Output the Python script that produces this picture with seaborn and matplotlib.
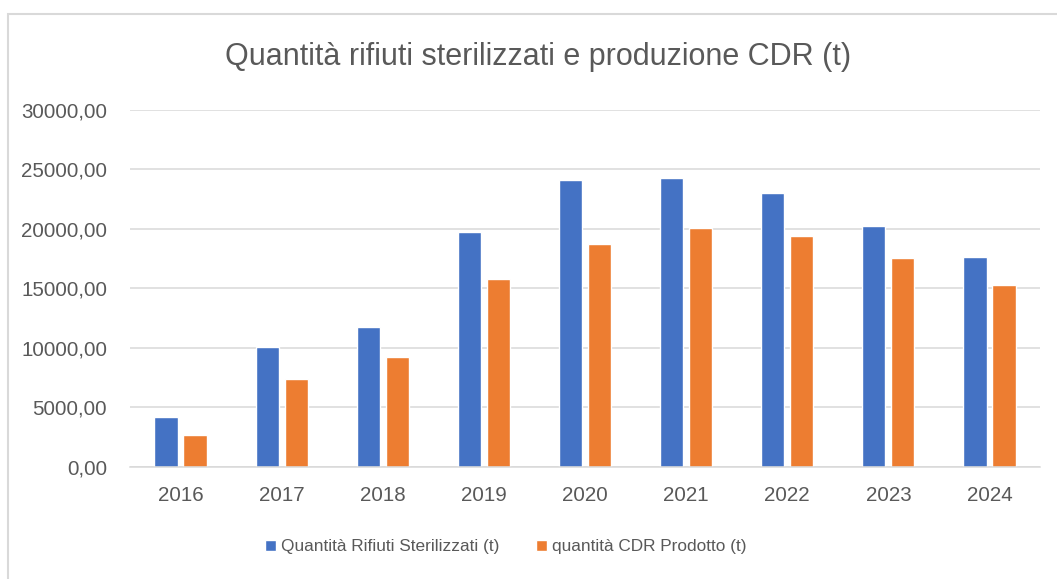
import matplotlib
matplotlib.use("Agg")
import matplotlib.pyplot as plt
import seaborn as sns
import pandas as pd
from matplotlib.patches import Rectangle
from matplotlib.ticker import FuncFormatter

years = ["2016", "2017", "2018", "2019", "2020", "2021", "2022", "2023", "2024"]
rifiuti = [4150, 10090, 11750, 19770, 24090, 24310, 23020, 20220, 17660]
cdr = [2670, 7400, 9250, 15760, 18760, 20080, 19380, 17530, 15260]
series_names = ["Quantità Rifiuti Sterilizzati (t)", "quantità CDR Prodotto (t)"]
colors = ["#4472C4", "#ED7D31"]
title = "Quantità rifiuti sterilizzati e produzione CDR (t)"

df = pd.DataFrame({
    "Anno": years * 2,
    "Valore": rifiuti + cdr,
    "Serie": [series_names[0]] * len(years) + [series_names[1]] * len(years),
})

sns.set_theme(style="white")
plt.rcParams["font.family"] = ["Liberation Sans", "DejaVu Sans"]
text_col = "#595959"
grid_col = "#D9D9D9"

fig = plt.figure(figsize=(10.57, 5.79), dpi=100)
fig.patch.set_facecolor("white")
ax = fig.add_axes([130 / 1057, 1 - 466.7 / 579, (1040 - 130) / 1057, (466.7 - 110) / 579])

sns.barplot(data=df, x="Anno", y="Valore", hue="Serie", palette=colors,
            width=0.574, gap=0.2, ax=ax, saturation=1, legend=True)

ax.set_ylim(0, 30000)
ax.set_xlim(-0.5, len(years) - 0.5)
ax.set_yticks(range(0, 30001, 5000))
ax.yaxis.set_major_formatter(FuncFormatter(lambda v, p: f"{v:.2f}".replace(".", ",")))
ax.set_xlabel("")
ax.set_ylabel("")
ax.grid(axis="y", color=grid_col, linewidth=1.1)
ax.set_axisbelow(True)
for s in ["top", "left", "right"]:
    ax.spines[s].set_visible(False)
ax.spines["bottom"].set_color(grid_col)
ax.spines["bottom"].set_linewidth(1.1)
ax.spines["bottom"].set_zorder(5)
ax.tick_params(axis="both", length=0, colors=text_col, labelsize=14.8)
ax.tick_params(axis="y", pad=16.5)
ax.tick_params(axis="x", pad=14)

handles, labels = ax.get_legend_handles_labels()
ax.legend_.remove()
fig.legend(handles, labels, loc="center", bbox_to_anchor=(506 / 1057, 1 - 547 / 579),
           ncol=2, frameon=False, fontsize=12.4, labelcolor=text_col,
           handlelength=0.65, handleheight=0.65, handletextpad=0.3, columnspacing=2.1)

fig.text(538 / 1057, 1 - 57 / 579, title, ha="center", va="center",
         fontsize=22, color=text_col)

fig.patches.append(Rectangle((8 / 1057, -0.1), 1.2, 1 - 14 / 579 + 0.1,
                             transform=fig.transFigure, fill=False,
                             edgecolor=grid_col, linewidth=1.5, zorder=0))

fig.savefig("out.png", dpi=100)
